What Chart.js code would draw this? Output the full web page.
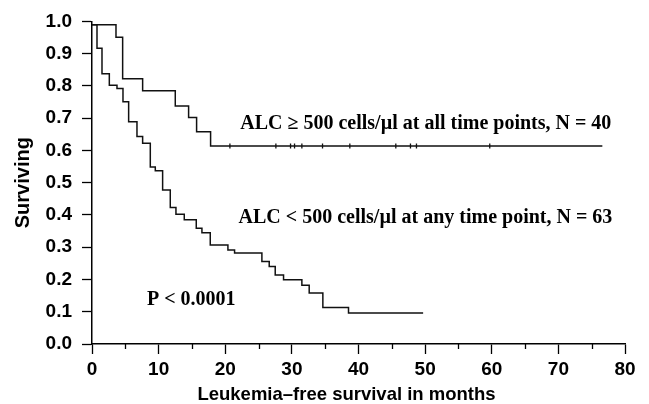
<!DOCTYPE html>
<html>
<head>
<meta charset="utf-8">
<script src="https://cdn.jsdelivr.net/npm/chart.js@4.4.1/dist/chart.umd.min.js"></script>
<style>
  body { margin: 0; background: #fff; }
  canvas { display: block; }
</style>
</head>
<body>
<canvas id="kmChart" width="649" height="404"></canvas>
<script>
// ALC >= 500 at all time points (N = 40): step times (months) and survival after each step
const highTimes = [0, 3.6, 4.6, 7.6, 12.5, 14.5, 15.7, 17.8, 76.6];
const highSurv = [0.99, 0.951, 0.822, 0.785, 0.738, 0.702, 0.658, 0.614, 0.614];
// censored patients marked on the flat tail
const highCensored = [20.7, 27.6, 29.8, 30.4, 31.5, 34.6, 38.7, 45.6, 47.8, 48.7, 59.7];

// ALC < 500 at any time point (N = 63)
const lowTimes = [0, 0.75, 1.5, 2.6, 3.75, 4.65, 5.5, 6.75, 7.6, 8.75, 9.5, 10.6, 11.75, 12.6,
  13.85, 15.65, 16.5, 17.75, 20.4, 21.4, 25.5, 26.6, 27.5, 28.75, 31.5, 32.6, 34.65, 38.5, 49.7];
const lowSurv = [0.99, 0.917, 0.838, 0.802, 0.792, 0.751, 0.689, 0.643, 0.622, 0.549, 0.537, 0.477,
  0.423, 0.402, 0.385, 0.359, 0.345, 0.307, 0.291, 0.282, 0.256, 0.240, 0.214, 0.199, 0.182, 0.158,
  0.113, 0.096, 0.096];

const xTitle = "Leukemia\u2013free survival in months";
const yTitle = "Surviving";

// text notes placed in data coordinates (months, survival)
const notes = [
  { text: "ALC \u2265 500 cells/\u00b5l at all time points, N = 40", at: [22.25, 0.665] },
  { text: "ALC < 500 cells/\u00b5l at any time point, N = 63", at: [22.0, 0.376] },
  { text: "P < 0.0001", at: [8.25, 0.12] }
];

const ink = "#111";
Chart.defaults.font.family = '"Liberation Sans", Arial, sans-serif';
Chart.defaults.color = "#000";

function toPoints(times, surv) {
  return times.map((t, i) => ({ x: t, y: surv[i] }));
}

// minor x ticks, notes and the x title
const extras = {
  id: "extras",
  afterDraw(chart) {
    const { ctx, chartArea, scales: { x, y } } = chart;
    ctx.save();
    ctx.strokeStyle = "#000";
    ctx.lineWidth = 1.3;
    for (let m = 5; m < 80; m += 10) {
      const px = Math.round(x.getPixelForValue(m)) + 0.5;
      ctx.beginPath();
      ctx.moveTo(px, chartArea.bottom);
      ctx.lineTo(px, chartArea.bottom + 5);
      ctx.stroke();
    }
    ctx.fillStyle = "#000";
    ctx.textBaseline = "alphabetic";
    ctx.textAlign = "left";
    ctx.font = 'bold 20px "Liberation Serif", "Times New Roman", serif';
    notes.forEach(n => {
      ctx.fillText(n.text, x.getPixelForValue(n.at[0]), y.getPixelForValue(n.at[1]));
    });
    ctx.font = 'bold 18.5px "Liberation Sans", Arial, sans-serif';
    ctx.textAlign = "center";
    ctx.fillText(xTitle, (chartArea.left + chartArea.right) / 2 - 12, 400);
    ctx.restore();
  }
};

new Chart(document.getElementById("kmChart"), {
  type: "line",
  data: {
    datasets: [
      {
        data: toPoints(lowTimes, lowSurv),
        stepped: "before",
        borderColor: ink,
        borderWidth: 1.5,
        pointRadius: 0,
        fill: false
      },
      {
        data: toPoints(highTimes, highSurv),
        stepped: "before",
        borderColor: ink,
        borderWidth: 1.5,
        pointRadius: 0,
        fill: false
      },
      {
        type: "scatter",
        data: highCensored.map(t => ({ x: t, y: highSurv[highSurv.length - 1] })),
        pointStyle: "line",
        rotation: 90,
        pointRadius: 2.5,
        borderColor: ink,
        borderWidth: 1.3,
        showLine: false
      }
    ]
  },
  options: {
    responsive: false,
    animation: false,
    devicePixelRatio: 1,
    layout: { padding: { top: 19, right: 24, left: 0, bottom: 0 } },
    plugins: { legend: { display: false }, tooltip: { enabled: false } },
    scales: {
      x: {
        type: "linear",
        min: 0,
        max: 80,
        ticks: { stepSize: 10, padding: 4, maxRotation: 0, font: { size: 19, weight: "bold" }, color: "#000" },
        grid: { drawOnChartArea: false, tickLength: 10, tickColor: "#000", tickWidth: 1.3 },
        border: { color: "#000", width: 1.5 },
        afterFit: s => { s.height = 60; }
      },
      y: {
        min: 0,
        max: 1,
        ticks: { stepSize: 0.1, padding: 10, callback: v => v.toFixed(1), font: { size: 19, weight: "bold" }, color: "#000" },
        grid: { drawOnChartArea: false, tickLength: 10, tickColor: "#000", tickWidth: 1.3 },
        border: { color: "#000", width: 1.5 },
        title: { display: true, text: yTitle, font: { size: 20, weight: "bold" }, color: "#000", padding: { top: 11, bottom: 0 } },
        afterFit: s => { s.width = 92; }
      }
    }
  },
  plugins: [extras]
});
</script>
</body>
</html>
